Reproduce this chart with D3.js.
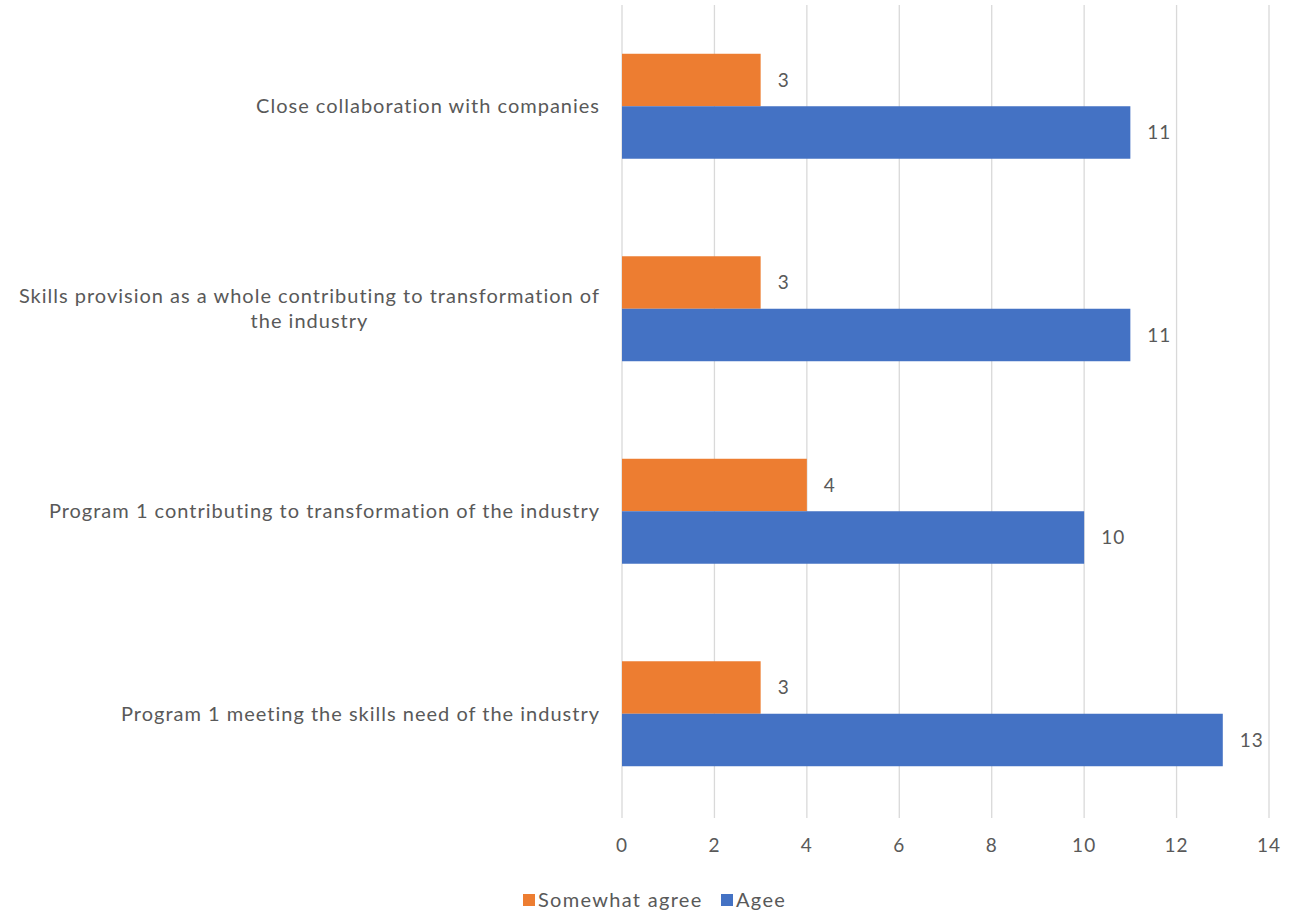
<!DOCTYPE html>
<html><head><meta charset="utf-8">
<script src="https://cdn.jsdelivr.net/npm/d3@7"></script>
<style>
body{margin:0;background:#fff;}
svg text{font-family:Lato,"Open Sans",sans-serif;fill:#595959;}
</style></head>
<body><svg id="c" width="1304" height="911"></svg>
<script>
const categories = [
  "Close collaboration with companies",
  "Skills provision as a whole contributing to transformation of the industry",
  "Program 1 contributing to transformation of the industry",
  "Program 1 meeting the skills need of the industry"
];
const seriesNames = ["Somewhat agree", "Agee"];
const somewhatAgree = [3, 3, 4, 3];
const agee = [11, 11, 10, 13];
const xTicks = [0, 2, 4, 6, 8, 10, 12, 14];
const colors = ["#ED7D31", "#4472C4"];
const seriesValues = [somewhatAgree, agee];

const svg = d3.select("#c");
const pLeft = 622, pRight = 1269, pTop = 5, pBottom = 815;
const x = d3.scaleLinear().domain([0, 14]).range([pLeft, pRight]);
const y0 = d3.scaleBand().domain(categories).range([pTop, pBottom]).padding(0);
const y1 = d3.scaleBand().domain(seriesNames).range([0, y0.bandwidth()]).paddingInner(0).paddingOuter(0.929);

// grid
svg.append("g").selectAll("line").data(xTicks).join("line")
  .attr("x1", d => x(d)).attr("x2", d => x(d))
  .attr("y1", pTop).attr("y2", pBottom + 3)
  .attr("stroke", "#D9D9D9").attr("stroke-width", 1.3);

// tick labels
svg.append("g").selectAll("text").data(xTicks).join("text")
  .attr("x", d => x(d)).attr("y", 852)
  .attr("text-anchor", "middle").attr("font-size", 19)
  .attr("letter-spacing", 1)
  .text(d => d);

// bars
seriesNames.forEach((s, si) => {
  const g = svg.append("g");
  g.selectAll("rect").data(categories).join("rect")
    .attr("x", x(0))
    .attr("y", c => y0(c) + y1(s))
    .attr("width", (c, i) => x(seriesValues[si][i]) - x(0))
    .attr("height", y1.bandwidth())
    .attr("fill", colors[si]);
  g.selectAll("text").data(categories).join("text")
    .attr("x", (c, i) => x(seriesValues[si][i]) + 17)
    .attr("y", c => y0(c) + y1(s) + y1.bandwidth() / 2)
    .attr("dy", "0.35em")
    .attr("font-size", 19)
    .attr("letter-spacing", 1)
    .text((c, i) => seriesValues[si][i]);
});

// category labels with wrapping
const maxW = 592, labelRight = 600, lineH = 25, fs = 20, ls = 1;
categories.forEach(c => {
  const words = c.split(" ");
  const tmp = svg.append("text").attr("font-size", fs).attr("letter-spacing", ls);
  const lines = [];
  let cur = "";
  words.forEach(w => {
    const test = cur ? cur + " " + w : w;
    tmp.text(test);
    if (tmp.node().getComputedTextLength() > maxW && cur) { lines.push(cur); cur = w; }
    else cur = test;
  });
  lines.push(cur);
  const widths = lines.map(l => { tmp.text(l); return tmp.node().getComputedTextLength(); });
  tmp.remove();
  const bw = d3.max(widths);
  const cx = labelRight - bw / 2;
  const cy = y0(c) + y0.bandwidth() / 2;
  const t = svg.append("text").attr("font-size", fs).attr("letter-spacing", ls).attr("text-anchor", "middle");
  lines.forEach((l, i) => {
    t.append("tspan").attr("x", cx)
      .attr("y", cy + (i - (lines.length - 1) / 2) * lineH)
      .attr("dy", "0.35em").text(l);
  });
});

// legend
const legend = svg.append("g");
const legX = [523, 721];
seriesNames.forEach((s, i) => {
  legend.append("rect").attr("x", legX[i]).attr("y", 894).attr("width", 12).attr("height", 12).attr("fill", colors[i]);
  legend.append("text").attr("x", legX[i] + 15).attr("y", 900).attr("dy", "0.35em")
    .attr("font-size", fs).attr("letter-spacing", 1.3).text(s);
});
</script></body></html>
